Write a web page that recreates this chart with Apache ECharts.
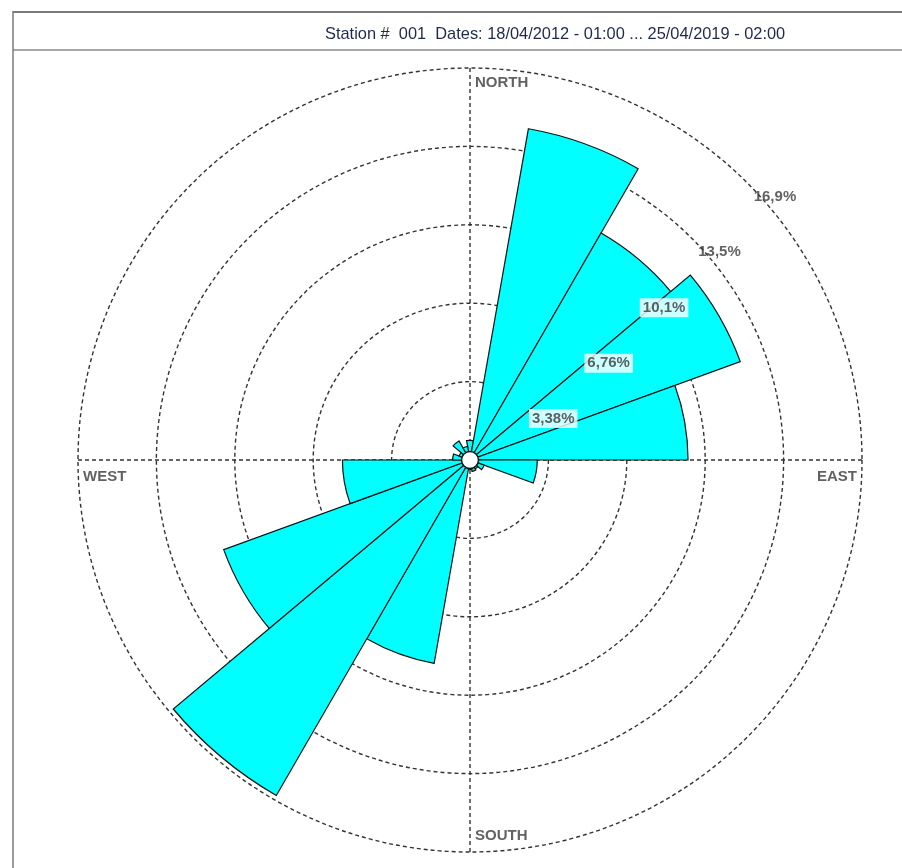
<!DOCTYPE html>
<html>
<head>
<meta charset="utf-8">
<title>Wind rose - Station 001</title>
<script src="https://cdn.jsdelivr.net/npm/echarts@6/dist/echarts.min.js"></script>
<style>
  html, body { margin: 0; padding: 0; background: #ffffff; }
  #chart { width: 902px; height: 868px; }
</style>
</head>
<body>
<div id="chart"></div>
<script>
// Direction bins (degrees from north, 20° wide, centred on the value)
const directions = ['0', '20', '40', '60', '80', '100', '120', '140', '160',
                    '180', '200', '220', '240', '260', '280', '300', '320', '340'];
// Frequency of each direction bin, in percent
const frequency = [0.85, 14.5, 11.3, 12.4, 9.4, 2.9, 0.65, 0.45, 0.5,
                   0.4, 8.9, 16.7, 11.3, 5.5, 0.75, 0.5, 0.95, 0.6];

// Concentric rings and their captions
const ringValues = [3.38, 6.76, 10.14, 13.52, 16.9];
const ringLabels = ['3,38%', '6,76%', '10,1%', '13,5%', '16,9%'];

// Cardinal points
const cardinalNames = ['NORTH', 'EAST', 'SOUTH', 'WEST'];
const cardinalAngles = [0, 90, 180, 270];

const titleText = 'Station #  001  Dates: 18/04/2012 - 01:00 ... 25/04/2019 - 02:00';

const FONT = 'Arial, "Liberation Sans", sans-serif';
const CENTER = [470, 460];
const RADIUS = 392;
const RMAX = ringValues[ringValues.length - 1];
const LABEL_ANGLE = 45;

const chart = echarts.init(document.getElementById('chart'), null, { renderer: 'canvas' });

// label placement for each cardinal caption, relative to where the axis meets the outer ring
const cardinalLabelStyle = {
  NORTH: { align: 'left',  offset: [5, 15] },
  EAST:  { align: 'right', offset: [-5, 17] },
  SOUTH: { align: 'left',  offset: [5, -16] },
  WEST:  { align: 'left',  offset: [5, 17] }
};

const cardinalData = cardinalNames.map((name, i) => ({
  value: [RMAX, cardinalAngles[i]],
  name: name,
  label: {
    show: true,
    formatter: name,
    position: 'inside',
    align: cardinalLabelStyle[name].align,
    verticalAlign: 'middle',
    offset: cardinalLabelStyle[name].offset
  }
}));

const ringLabelData = ringValues.map((v, i) => ({
  value: [v, LABEL_ANGLE],
  label: {
    show: true,
    formatter: ringLabels[i],
    position: [0, 0],
    align: 'left',
    verticalAlign: 'top',
    offset: [4, 5],
    backgroundColor: i < 3 ? '#ffffff' : 'transparent',
    padding: [2, 3, 2, 3]
  }
}));

const option = {
  backgroundColor: '#ffffff',
  animation: false,
  title: {
    text: titleText,
    left: 320,
    top: 21,
    textStyle: { fontFamily: FONT, fontSize: 16.4, fontWeight: 'normal', color: '#1d2a4d' }
  },
  graphic: [
    { type: 'line', shape: { x1: 13, y1: 12, x2: 902, y2: 12 }, style: { stroke: '#7a7a7a', lineWidth: 2 } },
    { type: 'line', shape: { x1: 13, y1: 50, x2: 902, y2: 50 }, style: { stroke: '#8a8a8a', lineWidth: 1.5 } },
    { type: 'line', shape: { x1: 13, y1: 11, x2: 13, y2: 868 }, style: { stroke: '#7a7a7a', lineWidth: 1.5 } }
  ],
  polar: [
    { center: CENTER, radius: RADIUS },   // petals
    { center: CENTER, radius: RADIUS }    // rings, cross and captions
  ],
  angleAxis: [
    {
      polarIndex: 0,
      type: 'category',
      data: directions,
      startAngle: 100,
      clockwise: true,
      boundaryGap: true,
      axisLine: { show: false },
      axisTick: { show: false },
      axisLabel: { show: false },
      splitLine: { show: false }
    },
    {
      polarIndex: 1,
      type: 'value',
      min: 0,
      max: 360,
      interval: 90,
      startAngle: 90,
      clockwise: true,
      axisLine: { show: false },
      axisTick: { show: false },
      axisLabel: { show: false },
      splitLine: { show: true, lineStyle: { color: '#333', width: 1.4, type: [4, 3] } }
    }
  ],
  radiusAxis: [
    {
      polarIndex: 0,
      type: 'value',
      min: 0,
      max: RMAX,
      axisLine: { show: false },
      axisTick: { show: false },
      axisLabel: { show: false },
      splitLine: { show: false }
    },
    {
      polarIndex: 1,
      type: 'value',
      min: 0,
      max: RMAX,
      interval: ringValues[0],
      axisLine: { show: false },
      axisTick: { show: false },
      axisLabel: { show: false },
      splitLine: { show: true, lineStyle: { color: '#333', width: 1.4, type: [4, 3] } }
    }
  ],
  series: [
    {
      type: 'bar',
      coordinateSystem: 'polar',
      polarIndex: 0,
      data: frequency,
      barWidth: '100%',
      barCategoryGap: '0%',
      itemStyle: { color: '#00ffff', borderColor: '#111', borderWidth: 1.2 },
      z: 3
    },
    {
      type: 'scatter',
      coordinateSystem: 'polar',
      polarIndex: 1,
      symbolSize: 1,
      itemStyle: { color: 'rgba(0,0,0,0)' },
      data: cardinalData,
      label: { fontFamily: FONT, fontSize: 15, fontWeight: 'bold', color: '#3a3a3a' },
      silent: true,
      z: 5
    },
    {
      type: 'scatter',
      coordinateSystem: 'polar',
      polarIndex: 1,
      symbolSize: 1,
      itemStyle: { color: 'rgba(0,0,0,0)' },
      data: ringLabelData,
      label: { fontFamily: FONT, fontSize: 15, fontWeight: 'bold', color: '#3a3a3a' },
      silent: true,
      z: 6
    },
    {
      // hub at the centre of the rose
      type: 'scatter',
      coordinateSystem: 'polar',
      polarIndex: 1,
      symbol: 'circle',
      symbolSize: 17,
      itemStyle: { color: '#ffffff', borderColor: '#111', borderWidth: 1.5, opacity: 1 },
      data: [[0, 0]],
      silent: true,
      z: 7
    }
  ]
};

chart.setOption(option);
</script>
</body>
</html>
